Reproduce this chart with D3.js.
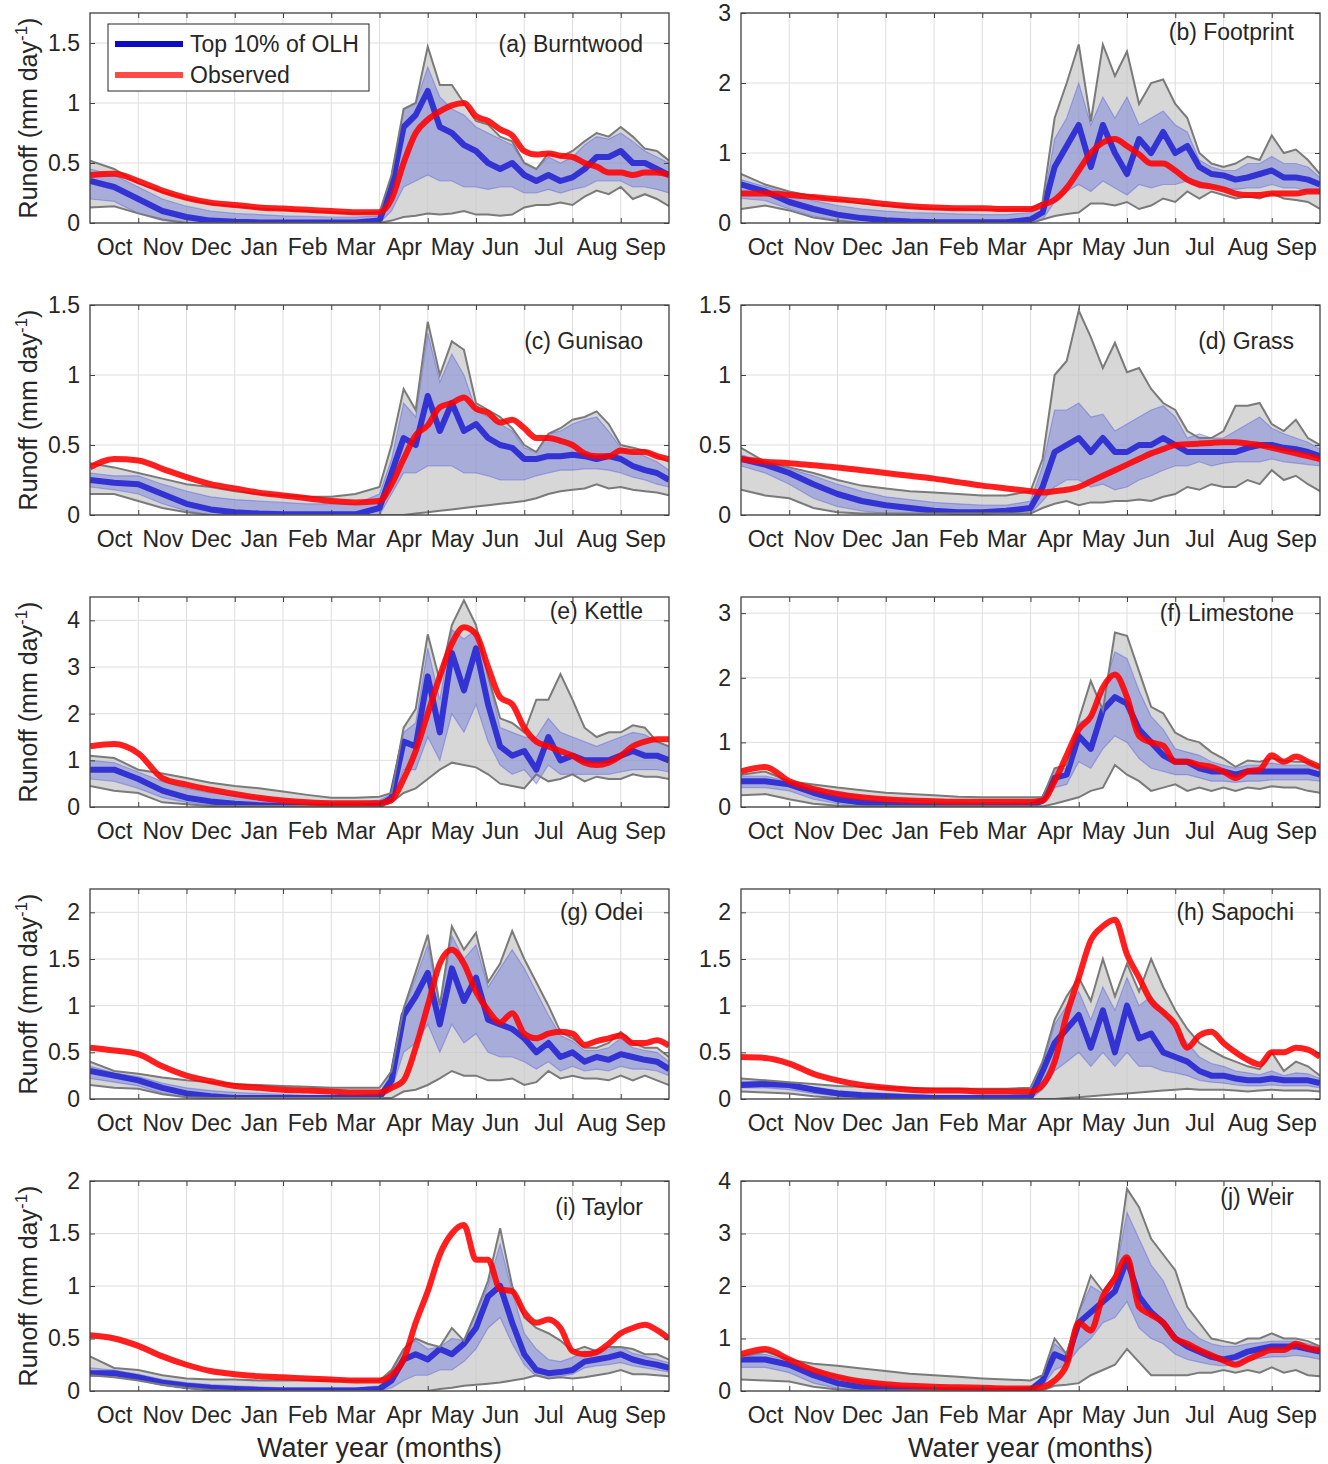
<!DOCTYPE html>
<html>
<head>
<meta charset="utf-8">
<script src="https://cdn.jsdelivr.net/npm/d3@7"></script>
<style>
body { margin: 0; background: #fff; }
text { font-family: "Liberation Sans", Arial, Helvetica, sans-serif; fill: #262626; }
</style>
</head>
<body>
<script>
// ---- data ----
var sites = ["(a) Burntwood", "(b) Footprint", "(c) Gunisao", "(d) Grass", "(e) Kettle",
             "(f) Limestone", "(g) Odei", "(h) Sapochi", "(i) Taylor", "(j) Weir"];
var monthNames = ["Oct","Nov","Dec","Jan","Feb","Mar","Apr","May","Jun","Jul","Aug","Sep"];
// position in the water year, in months since 1 Oct
var waterYear = [0,0.5,1,1.5,2,2.5,3,3.5,4,4.5,5,5.5,
                 6,6.25,6.5,6.75,7,7.25,7.5,7.75,8,8.25,8.5,8.75,9,9.25,9.5,9.75,
                 10,10.25,10.5,10.75,11,11.25,11.5,11.75,12];
var yMax = [1.75, 3, 1.5, 1.5, 4.5, 3.25, 2.25, 2.25, 2, 4];
var yTicks = [[0,0.5,1,1.5],[0,1,2,3],[0,0.5,1,1.5],[0,0.5,1,1.5],[0,1,2,3,4],
              [0,1,2,3],[0,0.5,1,1.5,2],[0,0.5,1,1.5,2],[0,0.5,1,1.5,2],[0,1,2,3,4]];

// grey envelope of all simulations, upper and lower edge
var envHi = [
 [0.52,0.45,0.33,0.26,0.2,0.16,0.14,0.12,0.11,0.1,0.09,0.08, 0.09,0.4,0.95,1.0,1.47,1.15,1.15,1.0,0.85,0.82,0.72,0.68,0.5,0.45,0.58,0.55,0.6,0.68,0.75,0.72,0.8,0.72,0.62,0.6,0.52],
 [0.7,0.55,0.45,0.38,0.33,0.28,0.25,0.22,0.2,0.2,0.19,0.19, 0.2,0.3,1.5,2.0,2.55,1.45,2.55,2.1,2.45,1.7,2.0,2.05,1.7,1.5,1.0,0.85,0.8,0.85,0.95,0.9,1.25,1.0,1.05,0.9,0.7],
 [0.37,0.34,0.3,0.26,0.22,0.2,0.17,0.15,0.14,0.13,0.13,0.15, 0.2,0.5,0.9,0.75,1.38,1.0,1.24,1.18,0.8,0.75,0.7,0.62,0.5,0.45,0.58,0.62,0.68,0.7,0.74,0.65,0.5,0.48,0.46,0.42,0.38],
 [0.48,0.38,0.34,0.3,0.25,0.21,0.19,0.17,0.16,0.15,0.14,0.14, 0.17,0.4,1.0,1.1,1.46,1.27,1.05,1.23,1.02,1.05,0.9,0.8,0.75,0.6,0.55,0.55,0.6,0.78,0.78,0.8,0.65,0.6,0.68,0.55,0.5],
 [1.1,1.05,0.8,0.72,0.62,0.52,0.45,0.4,0.33,0.26,0.2,0.2, 0.22,0.3,1.7,2.1,3.7,2.7,3.9,4.43,3.9,2.8,1.9,1.8,1.6,2.3,2.3,2.85,2.3,1.7,1.5,1.6,1.6,1.75,1.7,1.4,1.3],
 [0.5,0.55,0.4,0.35,0.3,0.26,0.22,0.2,0.18,0.16,0.15,0.15, 0.15,0.15,0.6,0.65,1.35,1.95,1.5,2.7,2.65,2.1,1.55,1.45,1.15,1.05,1.0,0.85,0.75,0.62,0.72,0.7,0.75,0.72,0.7,0.7,0.6],
 [0.4,0.3,0.27,0.23,0.2,0.18,0.16,0.15,0.14,0.13,0.12,0.12, 0.12,0.3,0.97,1.36,1.76,1.0,1.85,1.6,1.78,1.25,1.45,1.8,1.5,1.25,1.0,0.72,0.65,0.55,0.55,0.6,0.72,0.6,0.55,0.55,0.45],
 [0.22,0.2,0.18,0.16,0.14,0.13,0.12,0.12,0.11,0.11,0.11,0.11, 0.12,0.4,0.85,1.1,1.3,1.05,1.5,1.1,1.45,1.15,1.5,1.2,0.95,0.75,0.6,0.52,0.45,0.4,0.35,0.32,0.5,0.3,0.4,0.35,0.25],
 [0.33,0.22,0.2,0.15,0.12,0.11,0.11,0.1,0.1,0.1,0.1,0.1, 0.1,0.2,0.4,0.5,0.45,0.42,0.6,0.48,0.75,1.05,1.55,1.0,0.7,0.6,0.55,0.48,0.38,0.42,0.38,0.42,0.42,0.4,0.35,0.35,0.3],
 [0.65,0.75,0.6,0.52,0.48,0.43,0.38,0.33,0.3,0.27,0.24,0.22, 0.2,0.3,1.0,0.7,1.5,2.2,1.9,2.2,3.85,3.5,2.9,2.6,2.3,1.6,1.3,1.0,0.95,0.9,1.0,1.0,1.1,1.0,1.0,0.95,0.85]
];
var envLo = [
 [0.13,0.14,0.08,0.03,0,0,0,0,0,0,0,0, 0,0.02,0.05,0.06,0.08,0.07,0.08,0.1,0.07,0.07,0.06,0.07,0.13,0.15,0.15,0.17,0.15,0.22,0.27,0.24,0.3,0.2,0.24,0.2,0.14],
 [0.2,0.25,0.18,0.08,0.03,0,0,0,0,0,0,0, 0,0.05,0.1,0.13,0.15,0.28,0.28,0.25,0.3,0.2,0.25,0.35,0.3,0.45,0.35,0.45,0.4,0.35,0.38,0.35,0.42,0.35,0.33,0.3,0.2],
 [0.15,0.15,0.1,0.05,0.02,0,0,0,0,0,0,0, 0,0,0,0.01,0.02,0.03,0.04,0.05,0.06,0.07,0.08,0.09,0.1,0.12,0.15,0.17,0.18,0.19,0.22,0.19,0.2,0.18,0.17,0.16,0.14],
 [0.18,0.14,0.12,0.05,0.02,0.01,0.01,0.01,0.01,0.01,0.01,0.01, 0.01,0.05,0.08,0.1,0.07,0.09,0.09,0.1,0.1,0.11,0.1,0.13,0.15,0.2,0.18,0.22,0.2,0.2,0.25,0.22,0.32,0.25,0.28,0.22,0.17],
 [0.45,0.35,0.3,0.1,0.06,0.02,0.02,0.02,0.02,0.02,0.02,0.02, 0.02,0.1,0.3,0.4,0.6,0.8,0.95,0.9,0.85,0.7,0.5,0.45,0.4,0.7,0.55,0.6,0.7,0.55,0.65,0.6,0.6,0.7,0.65,0.65,0.6],
 [0.18,0.2,0.12,0.05,0.02,0.01,0.01,0.01,0.01,0.01,0.01,0.01, 0.01,0.01,0.05,0.1,0.15,0.25,0.3,0.65,0.5,0.4,0.25,0.3,0.35,0.25,0.3,0.25,0.3,0.25,0.3,0.28,0.32,0.3,0.3,0.25,0.22],
 [0.15,0.12,0.11,0.05,0.02,0.01,0.01,0.01,0.01,0.01,0.01,0.01, 0.01,0.01,0.08,0.1,0.15,0.22,0.3,0.25,0.25,0.2,0.2,0.22,0.15,0.18,0.3,0.22,0.25,0.22,0.22,0.2,0.25,0.2,0.25,0.2,0.15],
 [0.08,0.07,0.06,0.03,0.01,0,0,0,0,0,0,0, 0,0,0,0.01,0.02,0.03,0.04,0.05,0.06,0.07,0.08,0.09,0.1,0.11,0.1,0.1,0.1,0.09,0.08,0.09,0.1,0.09,0.09,0.09,0.08],
 [0.15,0.13,0.1,0.06,0.03,0.01,0,0,0,0,0,0, 0,0,0,0,0,0.02,0.03,0.05,0.06,0.07,0.08,0.1,0.12,0.15,0.12,0.13,0.12,0.13,0.15,0.17,0.2,0.16,0.16,0.15,0.14],
 [0.22,0.2,0.18,0.08,0.03,0.01,0.01,0.01,0.01,0.01,0.01,0.01, 0.01,0.01,0.1,0.12,0.15,0.3,0.4,0.5,0.8,0.55,0.3,0.3,0.3,0.3,0.35,0.35,0.4,0.35,0.4,0.35,0.45,0.35,0.4,0.3,0.28]
];

// top 10% of OLH runs: upper edge, dense core, lower edge
var ensHi = [
 [0.45,0.4,0.3,0.2,0.14,0.1,0.08,0.07,0.06,0.055,0.05,0.05, 0.06,0.38,0.95,1.0,1.3,1.05,0.95,0.9,0.8,0.75,0.7,0.65,0.5,0.45,0.55,0.5,0.55,0.65,0.72,0.7,0.75,0.68,0.6,0.55,0.5],
 [0.62,0.52,0.42,0.32,0.25,0.2,0.17,0.15,0.14,0.13,0.12,0.12, 0.15,0.25,1.2,1.5,2.0,1.4,1.8,1.5,1.8,1.4,1.5,1.6,1.4,1.3,0.9,0.8,0.75,0.75,0.85,0.85,0.95,0.85,0.85,0.8,0.65],
 [0.3,0.28,0.28,0.22,0.17,0.13,0.11,0.1,0.09,0.08,0.08,0.08, 0.15,0.4,0.8,0.7,1.3,0.95,1.15,1.0,0.75,0.7,0.65,0.6,0.48,0.45,0.58,0.6,0.65,0.68,0.7,0.6,0.48,0.45,0.42,0.38,0.32],
 [0.43,0.38,0.33,0.28,0.22,0.17,0.13,0.11,0.09,0.08,0.07,0.07, 0.1,0.35,0.75,0.75,0.8,0.7,0.72,0.6,0.65,0.7,0.75,0.78,0.7,0.55,0.58,0.55,0.55,0.6,0.65,0.7,0.62,0.58,0.55,0.52,0.47],
 [1.0,0.95,0.75,0.55,0.4,0.3,0.25,0.2,0.16,0.12,0.1,0.1, 0.15,0.28,1.6,1.8,3.4,2.3,3.8,3.6,3.8,2.8,1.7,1.6,1.5,1.5,1.9,1.6,1.5,1.4,1.3,1.4,1.5,1.6,1.55,1.4,1.3],
 [0.48,0.48,0.4,0.3,0.22,0.17,0.13,0.11,0.09,0.08,0.07,0.07, 0.1,0.14,0.6,0.6,1.3,1.4,1.8,2.4,2.3,1.8,1.4,1.2,0.9,0.85,0.8,0.7,0.65,0.6,0.65,0.65,0.68,0.65,0.65,0.65,0.58],
 [0.35,0.28,0.24,0.17,0.12,0.09,0.07,0.06,0.05,0.04,0.04,0.04, 0.06,0.28,0.95,1.3,1.65,1.0,1.75,1.5,1.65,1.2,1.4,1.6,1.4,1.15,0.9,0.68,0.62,0.52,0.52,0.55,0.65,0.55,0.52,0.5,0.4],
 [0.19,0.19,0.17,0.13,0.09,0.07,0.06,0.05,0.04,0.04,0.04,0.04, 0.05,0.35,0.8,1.0,1.15,0.85,1.2,0.95,1.3,1.0,1.1,0.95,0.75,0.6,0.45,0.38,0.35,0.3,0.28,0.26,0.3,0.25,0.28,0.27,0.22],
 [0.22,0.2,0.16,0.11,0.08,0.06,0.05,0.04,0.03,0.03,0.03,0.03, 0.05,0.18,0.4,0.48,0.4,0.42,0.5,0.48,0.75,1.0,1.4,0.95,0.55,0.4,0.3,0.28,0.32,0.38,0.36,0.4,0.42,0.36,0.33,0.3,0.27],
 [0.68,0.7,0.58,0.42,0.28,0.18,0.12,0.09,0.07,0.06,0.05,0.05, 0.08,0.28,0.9,0.7,1.5,2.0,1.85,2.2,3.4,2.9,2.4,2.1,1.6,1.2,1.0,0.9,0.85,0.85,0.9,0.92,0.95,0.95,0.95,0.9,0.85]
];
var ensMid = [
 [0.35,0.3,0.2,0.1,0.05,0.02,0.01,0.005,0.005,0.005,0.005,0.005, 0.02,0.3,0.8,0.9,1.1,0.8,0.75,0.65,0.6,0.5,0.45,0.5,0.4,0.35,0.4,0.35,0.38,0.45,0.55,0.55,0.6,0.5,0.5,0.45,0.4],
 [0.55,0.45,0.3,0.2,0.12,0.07,0.04,0.02,0.01,0.01,0.01,0.01, 0.05,0.15,0.8,1.1,1.4,0.8,1.4,1.0,0.7,1.2,1.0,1.3,1.0,1.1,0.8,0.7,0.68,0.62,0.65,0.7,0.75,0.65,0.65,0.62,0.55],
 [0.25,0.23,0.22,0.15,0.08,0.04,0.02,0.01,0.005,0.005,0.005,0.005, 0.05,0.3,0.55,0.5,0.85,0.6,0.8,0.6,0.65,0.55,0.5,0.48,0.4,0.4,0.42,0.42,0.43,0.42,0.4,0.42,0.4,0.35,0.32,0.3,0.25],
 [0.4,0.36,0.3,0.22,0.15,0.1,0.07,0.05,0.03,0.02,0.02,0.03, 0.05,0.2,0.45,0.5,0.55,0.45,0.55,0.45,0.45,0.5,0.5,0.55,0.5,0.45,0.45,0.45,0.45,0.45,0.48,0.5,0.5,0.48,0.47,0.45,0.42],
 [0.8,0.8,0.6,0.35,0.2,0.12,0.07,0.04,0.02,0.01,0.01,0.01, 0.03,0.2,1.4,1.3,2.8,1.6,3.3,2.5,3.4,2.2,1.3,1.1,1.2,0.8,1.5,1.0,1.1,1.0,1.0,1.0,1.1,1.2,1.1,1.1,1.0],
 [0.4,0.4,0.35,0.22,0.12,0.07,0.04,0.02,0.01,0.01,0.01,0.01, 0.02,0.1,0.45,0.5,1.1,0.9,1.5,1.7,1.6,1.2,1.0,0.8,0.7,0.7,0.6,0.55,0.55,0.5,0.55,0.55,0.55,0.55,0.55,0.55,0.5],
 [0.3,0.25,0.2,0.12,0.06,0.03,0.01,0.01,0.01,0.01,0.01,0.01, 0.02,0.2,0.9,1.1,1.35,0.8,1.4,1.05,1.3,0.85,0.8,0.75,0.65,0.5,0.6,0.45,0.5,0.4,0.45,0.42,0.48,0.45,0.42,0.4,0.32],
 [0.15,0.16,0.15,0.1,0.06,0.04,0.03,0.02,0.01,0.01,0.01,0.01, 0.02,0.3,0.6,0.75,0.9,0.55,0.95,0.5,1.0,0.65,0.7,0.5,0.45,0.4,0.3,0.25,0.25,0.22,0.2,0.2,0.22,0.2,0.2,0.2,0.17],
 [0.17,0.17,0.13,0.08,0.05,0.03,0.02,0.01,0.005,0.005,0.005,0.005, 0.02,0.1,0.3,0.35,0.3,0.4,0.35,0.45,0.6,0.9,1.0,0.65,0.35,0.2,0.17,0.18,0.2,0.28,0.3,0.32,0.35,0.3,0.27,0.25,0.22],
 [0.6,0.6,0.5,0.3,0.15,0.07,0.04,0.02,0.01,0.01,0.01,0.01, 0.02,0.2,0.7,0.6,1.3,1.5,1.7,1.9,2.5,1.8,1.5,1.3,1.0,0.85,0.75,0.65,0.6,0.65,0.75,0.8,0.85,0.85,0.85,0.8,0.75]
];
var ensLo = [
 [0.2,0.18,0.08,0.02,0,0,0,0,0,0,0,0, 0,0.1,0.3,0.35,0.4,0.35,0.35,0.3,0.3,0.28,0.3,0.3,0.25,0.25,0.28,0.25,0.28,0.3,0.35,0.35,0.35,0.3,0.3,0.28,0.25],
 [0.35,0.32,0.2,0.1,0.04,0,0,0,0,0,0,0, 0,0.05,0.3,0.45,0.55,0.45,0.6,0.5,0.4,0.55,0.5,0.55,0.55,0.6,0.5,0.5,0.5,0.48,0.5,0.5,0.55,0.5,0.5,0.45,0.42],
 [0.2,0.18,0.15,0.08,0.03,0,0,0,0,0,0,0, 0,0.15,0.3,0.3,0.35,0.35,0.35,0.3,0.3,0.28,0.25,0.25,0.25,0.28,0.3,0.32,0.32,0.33,0.33,0.32,0.3,0.27,0.25,0.22,0.2],
 [0.35,0.3,0.22,0.12,0.06,0.03,0.01,0,0,0,0,0, 0.01,0.1,0.2,0.25,0.25,0.2,0.22,0.18,0.2,0.25,0.28,0.32,0.35,0.35,0.38,0.35,0.37,0.38,0.38,0.38,0.4,0.38,0.37,0.36,0.35],
 [0.6,0.55,0.4,0.2,0.1,0.04,0.01,0.01,0.01,0.01,0.01,0.01, 0.01,0.1,0.8,0.8,1.5,1.0,2.0,1.6,2.2,1.4,0.9,0.7,0.8,0.5,0.9,0.7,0.7,0.7,0.7,0.7,0.75,0.8,0.8,0.8,0.75],
 [0.3,0.3,0.25,0.12,0.05,0,0,0,0,0,0,0, 0,0.05,0.3,0.35,0.7,0.6,0.9,1.1,1.0,0.75,0.6,0.55,0.5,0.5,0.45,0.4,0.4,0.38,0.4,0.4,0.42,0.42,0.42,0.42,0.4],
 [0.22,0.18,0.14,0.06,0.02,0,0,0,0,0,0,0, 0,0.1,0.5,0.6,0.8,0.5,0.8,0.6,0.7,0.5,0.45,0.45,0.4,0.32,0.4,0.3,0.35,0.3,0.32,0.3,0.35,0.32,0.32,0.3,0.25],
 [0.12,0.12,0.1,0.06,0.03,0,0,0,0,0,0,0, 0,0.1,0.3,0.4,0.5,0.35,0.5,0.35,0.5,0.35,0.35,0.3,0.28,0.25,0.2,0.18,0.17,0.15,0.14,0.14,0.15,0.14,0.14,0.14,0.12],
 [0.14,0.14,0.1,0.05,0.02,0,0,0,0,0,0,0, 0,0.03,0.1,0.15,0.15,0.2,0.2,0.28,0.4,0.6,0.7,0.45,0.25,0.14,0.13,0.14,0.16,0.22,0.24,0.25,0.27,0.24,0.22,0.2,0.18],
 [0.45,0.45,0.35,0.15,0.05,0,0,0,0,0,0,0, 0,0.1,0.4,0.5,0.8,1.0,1.3,1.4,1.7,1.2,1.0,0.9,0.7,0.6,0.55,0.5,0.48,0.5,0.58,0.62,0.65,0.65,0.68,0.65,0.6]
];

// observed runoff
var observed = [
 [0.4,0.41,0.35,0.27,0.21,0.17,0.15,0.13,0.12,0.11,0.1,0.09, 0.09,0.2,0.5,0.75,0.86,0.93,0.98,1.0,0.89,0.85,0.78,0.73,0.6,0.57,0.58,0.56,0.55,0.5,0.47,0.42,0.42,0.4,0.42,0.42,0.4],
 [0.42,0.42,0.4,0.37,0.34,0.31,0.27,0.24,0.22,0.21,0.21,0.2, 0.2,0.26,0.33,0.5,0.75,1.0,1.15,1.2,1.1,0.98,0.85,0.85,0.75,0.62,0.55,0.52,0.48,0.42,0.4,0.4,0.42,0.42,0.42,0.45,0.45],
 [0.34,0.4,0.39,0.33,0.27,0.22,0.19,0.16,0.14,0.12,0.1,0.09, 0.1,0.22,0.4,0.57,0.64,0.77,0.8,0.84,0.76,0.73,0.66,0.68,0.62,0.55,0.55,0.53,0.5,0.44,0.42,0.42,0.46,0.45,0.45,0.42,0.4],
 [0.4,0.38,0.37,0.355,0.34,0.32,0.3,0.28,0.26,0.235,0.21,0.19, 0.17,0.16,0.17,0.18,0.2,0.24,0.28,0.32,0.36,0.4,0.44,0.47,0.5,0.505,0.51,0.515,0.52,0.52,0.51,0.5,0.48,0.46,0.44,0.42,0.4],
 [1.3,1.35,1.15,0.62,0.48,0.37,0.28,0.2,0.14,0.1,0.08,0.08, 0.08,0.15,0.6,1.2,2.0,2.8,3.5,3.85,3.7,3.0,2.35,2.2,1.7,1.4,1.3,1.2,1.1,0.95,0.9,0.95,1.1,1.3,1.4,1.45,1.45],
 [0.55,0.62,0.4,0.28,0.2,0.15,0.12,0.1,0.09,0.08,0.08,0.08, 0.08,0.1,0.4,0.8,1.2,1.4,1.85,2.05,1.7,1.1,1.0,0.95,0.7,0.7,0.65,0.62,0.55,0.45,0.55,0.58,0.8,0.7,0.78,0.7,0.62],
 [0.55,0.52,0.48,0.35,0.25,0.19,0.14,0.12,0.1,0.09,0.08,0.07, 0.07,0.12,0.2,0.55,1.0,1.45,1.6,1.45,1.15,0.95,0.82,0.92,0.7,0.65,0.7,0.72,0.7,0.58,0.62,0.65,0.68,0.6,0.6,0.63,0.57],
 [0.45,0.44,0.38,0.27,0.2,0.15,0.12,0.1,0.09,0.09,0.08,0.08, 0.08,0.15,0.4,0.9,1.3,1.7,1.85,1.92,1.55,1.3,1.05,0.93,0.8,0.55,0.68,0.72,0.6,0.5,0.42,0.37,0.5,0.5,0.55,0.53,0.45],
 [0.53,0.5,0.43,0.33,0.25,0.19,0.16,0.14,0.13,0.12,0.11,0.1, 0.1,0.15,0.3,0.65,0.95,1.3,1.5,1.58,1.25,1.25,0.97,0.95,0.75,0.65,0.68,0.6,0.38,0.35,0.37,0.45,0.55,0.6,0.63,0.58,0.5],
 [0.7,0.8,0.6,0.4,0.27,0.18,0.13,0.1,0.08,0.07,0.06,0.05, 0.05,0.08,0.2,0.5,1.3,1.15,1.8,2.15,2.55,1.6,1.45,1.3,1.0,0.9,0.78,0.68,0.58,0.5,0.6,0.7,0.78,0.78,0.9,0.82,0.78]
];

// ---- layout ----
var W = 1328, H = 1464;
var colX = [90, 741], pw = 579;          // plot left edges, plot width
var rowY = [13, 305, 597, 889, 1181], ph = 210;
var labelDy = [39, 27, 44, 44, 22, 24, 31, 31, 34, 24];   // panel title baseline below plot top

var svg = d3.select("body").append("svg")
    .attr("width", W)
    .attr("height", H);

var monthBounds = d3.range(1, 12);
var monthMids = d3.range(12).map(function(k) { return k + 0.5; });

sites.forEach(function(name, i) {
    var col = i % 2, row = Math.floor(i / 2);
    var x0 = colX[col], y0 = rowY[row];

    var x = d3.scaleLinear().domain([0, 12]).range([x0, x0 + pw]);
    var y = d3.scaleLinear().domain([0, yMax[i]]).range([y0 + ph, y0]);

    var rows = waterYear.map(function(m, k) {
        return { m: m, hi: envHi[i][k], lo: envLo[i][k],
                 eHi: ensHi[i][k], eMid: ensMid[i][k], eLo: ensLo[i][k], obs: observed[i][k] };
    });

    var g = svg.append("g");
    var clipId = "clip" + i;
    g.append("clipPath").attr("id", clipId)
        .append("rect")
        .attr("x", x0).attr("y", y0).attr("width", pw).attr("height", ph);

    // grid
    g.append("g").selectAll("line").data(monthBounds).enter().append("line")
        .attr("x1", d => x(d)).attr("x2", d => x(d))
        .attr("y1", y0).attr("y2", y0 + ph)
        .attr("stroke", "#dedede").attr("stroke-width", 1);
    g.append("g").selectAll("line").data(yTicks[i]).enter().append("line")
        .attr("x1", x0).attr("x2", x0 + pw)
        .attr("y1", d => y(d)).attr("y2", d => y(d))
        .attr("stroke", "#dedede").attr("stroke-width", 1);

    var plot = g.append("g").attr("clip-path", "url(#" + clipId + ")");

    // grey envelope
    plot.append("path").datum(rows)
        .attr("d", d3.area().x(d => x(d.m)).y0(d => y(d.lo)).y1(d => y(d.hi)))
        .attr("fill", "#c6c6c6").attr("fill-opacity", 0.7);

    // ensemble spread (top 10%)
    plot.append("path").datum(rows)
        .attr("d", d3.area().x(d => x(d.m)).y0(d => y(d.eLo)).y1(d => y(d.eHi)))
        .attr("fill", "#3c48dc").attr("fill-opacity", 0.3);
    ["eHi", "eLo"].forEach(function(k) {
        plot.append("path").datum(rows)
            .attr("d", d3.line().x(d => x(d.m)).y(d => y(d[k])))
            .attr("fill", "none").attr("stroke", "#3c48dc")
            .attr("stroke-opacity", 0.35).attr("stroke-width", 1.2);
    });
    plot.append("path").datum(rows)
        .attr("d", d3.line().x(d => x(d.m)).y(d => y(d.eMid)))
        .attr("fill", "none").attr("stroke", "#2626d4")
        .attr("stroke-opacity", 0.9).attr("stroke-width", 6)
        .attr("stroke-linejoin", "round");

    // envelope edges
    ["hi", "lo"].forEach(function(k) {
        plot.append("path").datum(rows)
            .attr("d", d3.line().x(d => x(d.m)).y(d => y(d[k])))
            .attr("fill", "none").attr("stroke", "#7a7a7a").attr("stroke-width", 2);
    });

    // observed
    plot.append("path").datum(rows)
        .attr("d", d3.line().curve(d3.curveMonotoneX).x(d => x(d.m)).y(d => y(d.obs)))
        .attr("fill", "none").attr("stroke", "#ff0000")
        .attr("stroke-opacity", 0.88).attr("stroke-width", 6)
        .attr("stroke-linejoin", "round");

    // frame
    g.append("rect")
        .attr("x", x0).attr("y", y0).attr("width", pw).attr("height", ph)
        .attr("fill", "none").attr("stroke", "#404040").attr("stroke-width", 1.3);

    // inward tick marks on all four sides
    g.append("g").attr("transform", "translate(" + x0 + ",0)")
        .call(d3.axisLeft(y).tickValues(yTicks[i]).tickSizeInner(-5).tickSizeOuter(0).tickFormat(""))
        .call(s => s.select(".domain").remove())
        .selectAll("line").attr("stroke", "#404040");
    g.append("g").attr("transform", "translate(" + (x0 + pw) + ",0)")
        .call(d3.axisRight(y).tickValues(yTicks[i]).tickSizeInner(-5).tickSizeOuter(0).tickFormat(""))
        .call(s => s.select(".domain").remove())
        .selectAll("line").attr("stroke", "#404040");
    g.append("g").attr("transform", "translate(0," + (y0 + ph) + ")")
        .call(d3.axisBottom(x).tickValues(monthBounds).tickSizeInner(-5).tickSizeOuter(0).tickFormat(""))
        .call(s => s.select(".domain").remove())
        .selectAll("line").attr("stroke", "#404040");
    g.append("g").attr("transform", "translate(0," + y0 + ")")
        .call(d3.axisTop(x).tickValues(monthBounds).tickSizeInner(-5).tickSizeOuter(0).tickFormat(""))
        .call(s => s.select(".domain").remove())
        .selectAll("line").attr("stroke", "#404040");

    // tick labels
    var yl = g.append("g").attr("transform", "translate(" + x0 + ",0)")
        .call(d3.axisLeft(y).tickValues(yTicks[i]).tickSize(0).tickPadding(10).tickFormat(d3.format("~g")));
    yl.select(".domain").remove();
    yl.attr("font-family", null).attr("font-size", null);
    yl.selectAll("text").style("font-size", "23px").attr("fill", null);

    var xl = g.append("g").attr("transform", "translate(0," + (y0 + ph) + ")")
        .call(d3.axisBottom(x).tickValues(monthMids).tickSize(0).tickPadding(16)
            .tickFormat((d, k) => monthNames[k]));
    xl.select(".domain").remove();
    xl.attr("font-family", null).attr("font-size", null);
    xl.selectAll("text").style("font-size", "23px").attr("fill", null);

    // panel title
    g.append("text")
        .attr("x", x0 + pw - 26).attr("y", y0 + labelDy[i])
        .attr("text-anchor", "end")
        .style("font-size", "23px")
        .text(name);

    // y label on the left column
    if (col === 0) {
        var t = g.append("text")
            .attr("transform", "translate(37," + (y0 + ph / 2) + ") rotate(-90)")
            .attr("text-anchor", "middle")
            .style("font-size", "25px");
        t.append("tspan").text("Runoff (mm day");
        t.append("tspan").attr("dy", -10).style("font-size", "17px").text("-1");
        t.append("tspan").attr("dy", 10).text(")");
    }

    // x label on the bottom row
    if (row === 4) {
        g.append("text")
            .attr("x", x0 + pw / 2).attr("y", 1457)
            .attr("text-anchor", "middle")
            .style("font-size", "27px")
            .text("Water year (months)");
    }

    // legend in the first panel
    if (i === 0) {
        var lg = g.append("g").attr("transform", "translate(" + (x0 + 18) + "," + (y0 + 11) + ")");
        lg.append("rect").attr("width", 261).attr("height", 67)
            .attr("fill", "#fff").attr("stroke", "#262626").attr("stroke-width", 1);
        var items = [["Top 10% of OLH", "#0c0cc8"], ["Observed", "#ff4a4a"]];
        items.forEach(function(it, k) {
            var ly = 20 + k * 31;
            lg.append("line").attr("x1", 7).attr("x2", 75).attr("y1", ly).attr("y2", ly)
                .attr("stroke", it[1]).attr("stroke-width", 6);
            lg.append("text").attr("x", 82).attr("y", ly + 8)
                .style("font-size", "23px").text(it[0]);
        });
    }
});
</script>
</body>
</html>
